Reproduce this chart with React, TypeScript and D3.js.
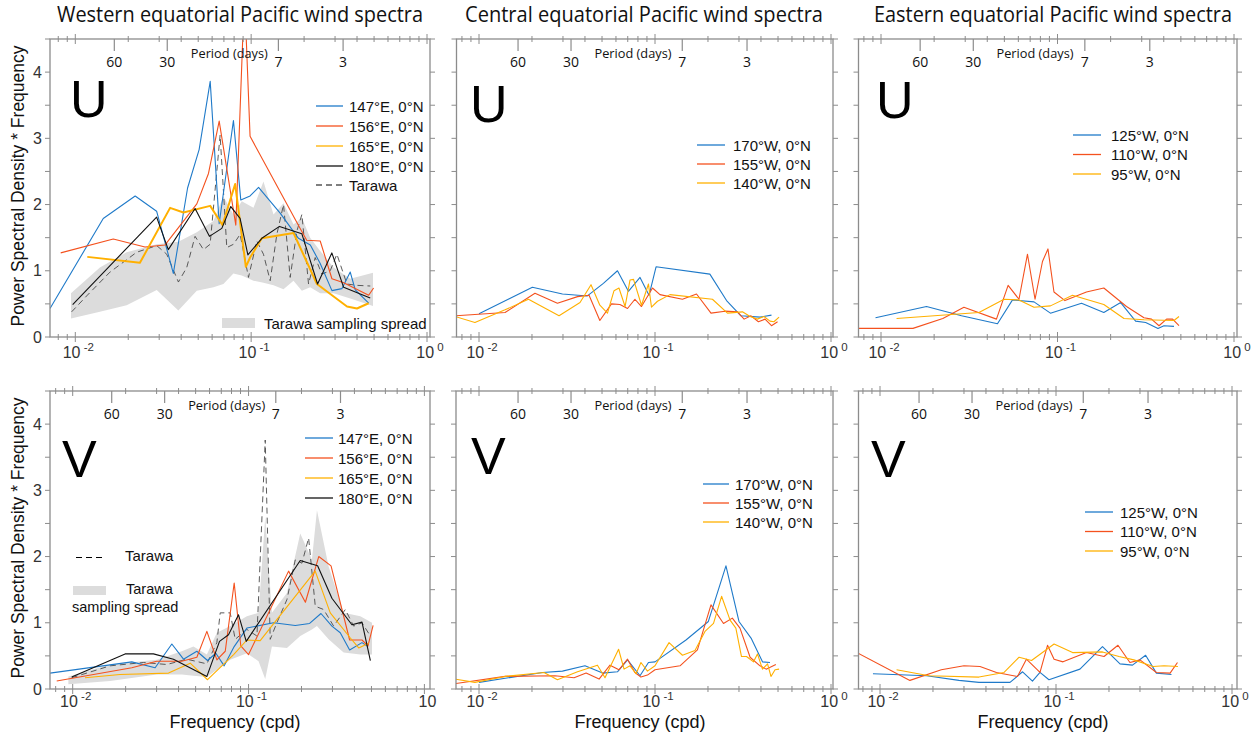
import React from 'react';
import * as d3 from 'd3';

type P = [number, number];
type B = [number, number, number];

const BLUE = '#1f7ac9';
const RED = '#f4511e';
const YELLOW = '#ffb000';
const BLACK = '#111111';
const DASH = '#4a4a4a';
const BAND = '#dcdcdc';
const AXIS = '#8c8c8c';

// ---------- Western, U ----------
const wU147: P[] = [[0.00718,0.43],[0.01442,1.79],[0.0219,2.13],[0.029,1.9],[0.0361,0.96],[0.0435,2.25],[0.0506,2.83],[0.0585,3.86],[0.0658,1.71],[0.0793,3.27],[0.0873,2.07],[0.0986,2.13],[0.1102,2.26],[0.1462,1.87],[0.1858,1.49],[0.217,1.39],[0.247,1.11],[0.288,0.7],[0.328,0.73],[0.366,0.98],[0.391,0.71],[0.466,0.51]];
const wU156: P[] = [[0.00826,1.27],[0.01644,1.48],[0.0249,1.36],[0.0324,1.39],[0.0491,2.01],[0.0572,2.47],[0.0658,3.26],[0.0818,1.69],[0.0916,5.2],[0.0986,3.03],[0.19,1.64],[0.207,1.46],[0.247,1.45],[0.288,0.88],[0.336,0.82],[0.466,0.63],[0.497,0.74]];
const wU165: P[] = [[0.0117,1.21],[0.0233,1.12],[0.0346,1.95],[0.0412,1.88],[0.0585,1.98],[0.0687,1.69],[0.0811,2.31],[0.0933,1.06],[0.0986,1.2],[0.115,1.49],[0.1742,1.57],[0.2367,0.8],[0.3508,0.46],[0.3998,0.43],[0.4656,0.51]];
const wU180: P[] = [[0.00966,0.49],[0.029,1.81],[0.0338,1.32],[0.048,1.94],[0.0579,1.52],[0.0681,1.64],[0.0766,1.97],[0.0865,1.79],[0.0958,1.24],[0.115,1.49],[0.1449,1.67],[0.1941,1.56],[0.2387,0.8],[0.2877,1.27],[0.3357,0.75],[0.4755,0.59]];
const wUTarawa: P[] = [[0.00953,0.38],[0.0116,0.62],[0.01575,0.98],[0.02234,1.28],[0.02904,1.38],[0.03311,1.25],[0.03858,0.83],[0.04303,1.05],[0.04799,1.52],[0.05354,1.32],[0.05843,1.4],[0.06661,3.05],[0.07269,1.35],[0.07931,1.4],[0.08658,1.55],[0.09656,0.9],[0.1077,1.45],[0.1175,1.25],[0.1283,0.85],[0.14,1.55],[0.1528,2.0],[0.1667,0.9],[0.182,1.6],[0.1943,1.85],[0.212,0.8],[0.2313,1.2],[0.2525,0.95],[0.2816,1.0],[0.3073,1.25],[0.3504,0.8],[0.3996,0.78],[0.4758,0.77]];
const wUSpread: B[] = [[0.00945,0.28,0.66],[0.0138,0.38,1.05],[0.01959,0.48,1.28],[0.02904,0.71,1.4],[0.03855,0.4,1.44],[0.04907,0.7,1.58],[0.06107,0.75,1.75],[0.06955,0.8,2.12],[0.07925,0.96,1.85],[0.08845,0.93,2.05],[0.1031,0.85,1.95],[0.1175,0.82,2.35],[0.134,0.78,1.85],[0.1527,0.72,2.02],[0.1741,0.85,1.7],[0.1942,0.7,1.8],[0.2166,0.75,1.5],[0.247,0.66,1.3],[0.2943,0.66,1.05],[0.3663,0.58,0.88],[0.4932,0.47,0.97]];

// ---------- Central, U ----------
const cU170: P[] = [[0.01,0.35],[0.0201,0.75],[0.0298,0.65],[0.0413,0.62],[0.0509,0.81],[0.0612,1.0],[0.0706,0.69],[0.0822,0.9],[0.0925,0.63],[0.1014,1.06],[0.205,0.95],[0.255,0.55],[0.308,0.32],[0.395,0.3],[0.459,0.33]];
const cU155: P[] = [[0.00731,0.32],[0.01406,0.37],[0.0208,0.66],[0.0279,0.51],[0.0363,0.61],[0.0422,0.63],[0.0486,0.25],[0.0566,0.5],[0.0632,0.49],[0.0698,0.43],[0.0769,0.57],[0.0838,0.46],[0.0968,0.74],[0.1067,0.64],[0.1432,0.57],[0.1722,0.65],[0.208,0.36],[0.25,0.39],[0.294,0.38],[0.321,0.27],[0.351,0.32],[0.387,0.23],[0.422,0.27],[0.459,0.17],[0.497,0.23]];
const cU140: P[] = [[0.00731,0.31],[0.00948,0.22],[0.01406,0.41],[0.0191,0.57],[0.0285,0.32],[0.0375,0.52],[0.0433,0.79],[0.0486,0.48],[0.0537,0.36],[0.0585,0.7],[0.0624,0.74],[0.0676,0.46],[0.0721,0.86],[0.0755,0.87],[0.0838,0.48],[0.0918,0.8],[0.0955,0.45],[0.1033,0.54],[0.1216,0.64],[0.212,0.57],[0.258,0.36],[0.314,0.38],[0.347,0.31],[0.382,0.27],[0.416,0.31],[0.45,0.24],[0.474,0.23],[0.507,0.3]];

// ---------- Eastern, U ----------
const eU125: P[] = [[0.00931,0.29],[0.0181,0.46],[0.0286,0.32],[0.0457,0.2],[0.0556,0.56],[0.0736,0.53],[0.0912,0.36],[0.1368,0.51],[0.183,0.37],[0.228,0.52],[0.277,0.24],[0.316,0.22],[0.371,0.13],[0.401,0.17],[0.457,0.16]];
const eU110: P[] = [[0.00741,0.13],[0.01517,0.13],[0.0224,0.28],[0.0295,0.45],[0.0451,0.27],[0.0525,0.78],[0.0605,0.57],[0.0676,1.25],[0.0746,0.57],[0.0822,1.14],[0.0883,1.33],[0.0955,0.68],[0.1102,0.55],[0.1459,0.68],[0.183,0.74],[0.246,0.46],[0.309,0.29],[0.341,0.27],[0.376,0.17],[0.415,0.27],[0.449,0.27],[0.488,0.17]];
const eU95: P[] = [[0.01225,0.28],[0.0359,0.37],[0.0498,0.57],[0.0605,0.56],[0.0736,0.45],[0.0912,0.47],[0.1216,0.63],[0.183,0.49],[0.238,0.28],[0.309,0.26],[0.457,0.25],[0.488,0.31]];

// ---------- Western, V ----------
const wV147: P[] = [[0.00743,0.24],[0.02168,0.41],[0.02943,0.32],[0.03662,0.68],[0.04267,0.45],[0.05082,0.57],[0.05845,0.43],[0.06518,0.54],[0.07268,0.35],[0.08285,0.64],[0.09785,0.92],[0.1388,1.0],[0.1844,0.96],[0.2225,0.99],[0.2581,1.14],[0.2979,0.95],[0.3323,0.85],[0.3757,0.59],[0.4417,0.7],[0.4776,0.64]];
const wV156: P[] = [[0.00811,0.12],[0.02168,0.32],[0.03006,0.42],[0.04171,0.42],[0.05082,0.48],[0.05794,0.87],[0.06607,0.44],[0.0737,0.57],[0.08285,1.6],[0.09036,0.65],[0.1,0.52],[0.1689,1.78],[0.2105,1.31],[0.2507,2.0],[0.2945,1.86],[0.3757,0.74],[0.4417,0.74],[0.4776,0.65],[0.5109,0.96]];
const wV165: P[] = [[0.01175,0.17],[0.01858,0.22],[0.03508,0.24],[0.04659,0.39],[0.05845,0.14],[0.08222,0.52],[0.09785,0.74],[0.1165,0.73],[0.2394,1.78],[0.2915,1.15],[0.3793,0.77],[0.423,0.62],[0.482,0.69]];
const wV180: P[] = [[0.00987,0.18],[0.01986,0.53],[0.02878,0.53],[0.03741,0.45],[0.05794,0.19],[0.06837,0.72],[0.07691,0.82],[0.0877,1.12],[0.09703,0.72],[0.1967,1.94],[0.247,1.86],[0.2979,1.37],[0.387,0.97],[0.4417,1.01],[0.4929,0.43]];
const wVTarawa: P[] = [[0.00987,0.17],[0.01632,0.35],[0.02525,0.4],[0.03428,0.37],[0.04457,0.45],[0.05793,0.38],[0.06603,0.7],[0.069,1.15],[0.07864,1.15],[0.08397,0.75],[0.09783,0.9],[0.1116,0.8],[0.1244,3.76],[0.1328,0.75],[0.1449,1.0],[0.1653,1.35],[0.1843,1.95],[0.2012,1.9],[0.2196,2.28],[0.2396,1.25],[0.2673,1.2],[0.3047,0.95],[0.355,1.2],[0.396,0.95],[0.4417,1.0],[0.4928,0.8]];
const wVSpread: B[] = [[0.00945,0.07,0.19],[0.01632,0.12,0.37],[0.03007,0.22,0.44],[0.04174,0.22,0.57],[0.04862,0.2,0.64],[0.05793,0.18,0.52],[0.06603,0.29,0.85],[0.07864,0.44,0.95],[0.09783,0.54,1.1],[0.114,0.42,1.15],[0.1244,0.15,2.6],[0.1358,0.64,1.15],[0.1653,0.62,1.45],[0.1968,0.8,2.35],[0.2293,0.9,1.95],[0.2449,0.95,2.7],[0.2853,0.75,1.85],[0.3473,0.55,1.15],[0.4321,0.52,1.1],[0.5036,0.52,1.0]];

// ---------- Central, V ----------
const cV170: P[] = [[0.01,0.1],[0.023,0.25],[0.0298,0.27],[0.04,0.35],[0.0504,0.24],[0.0612,0.26],[0.0698,0.44],[0.0822,0.2],[0.0918,0.4],[0.1,0.41],[0.15,0.74],[0.201,1.02],[0.253,1.86],[0.3,1.02],[0.353,0.76],[0.408,0.41],[0.45,0.4]];
const cV155: P[] = [[0.00731,0.08],[0.01406,0.19],[0.027,0.2],[0.0347,0.17],[0.0406,0.24],[0.0481,0.15],[0.0555,0.36],[0.0624,0.29],[0.0698,0.45],[0.0769,0.25],[0.0832,0.18],[0.0906,0.21],[0.1,0.29],[0.1387,0.35],[0.1742,0.59],[0.208,1.27],[0.245,0.99],[0.275,1.07],[0.304,0.92],[0.347,0.48],[0.395,0.35],[0.428,0.3],[0.486,0.37]];
const cV140: P[] = [[0.00731,0.15],[0.00948,0.1],[0.01406,0.19],[0.0234,0.25],[0.0279,0.14],[0.0363,0.26],[0.0471,0.36],[0.052,0.17],[0.0621,0.6],[0.0667,0.3],[0.0721,0.35],[0.078,0.23],[0.0832,0.4],[0.0906,0.27],[0.1,0.35],[0.1202,0.7],[0.1432,0.51],[0.1687,0.58],[0.1923,0.87],[0.215,0.99],[0.239,1.4],[0.267,1.04],[0.288,0.92],[0.31,0.49],[0.331,0.49],[0.363,0.41],[0.382,0.53],[0.408,0.3],[0.436,0.38],[0.456,0.19],[0.481,0.29],[0.507,0.3]];

// ---------- Eastern, V ----------
const eV125: P[] = [[0.00912,0.23],[0.0184,0.2],[0.0281,0.13],[0.0365,0.1],[0.0548,0.1],[0.0646,0.26],[0.0735,0.12],[0.0811,0.25],[0.0912,0.14],[0.1368,0.3],[0.1837,0.64],[0.231,0.38],[0.272,0.36],[0.323,0.51],[0.372,0.24],[0.453,0.22]];
const eV110: P[] = [[0.0075,0.54],[0.01479,0.13],[0.0223,0.29],[0.03,0.35],[0.037,0.34],[0.0459,0.25],[0.0604,0.19],[0.0679,0.45],[0.0811,0.25],[0.0895,0.66],[0.0975,0.45],[0.1096,0.41],[0.1489,0.55],[0.1875,0.49],[0.225,0.66],[0.263,0.4],[0.3,0.44],[0.372,0.25],[0.445,0.24],[0.49,0.4]];
const eV95: P[] = [[0.01242,0.29],[0.019,0.2],[0.0365,0.18],[0.0507,0.25],[0.0617,0.48],[0.0726,0.43],[0.0975,0.68],[0.1242,0.55],[0.1837,0.56],[0.228,0.49],[0.277,0.44],[0.356,0.34],[0.411,0.35],[0.493,0.34]];

// ---------- axes ----------
const yTicks = [0, 0.5, 1, 1.5, 2, 2.5, 3, 3.5, 4, 4.5];
const yTickLabels = [0, 1, 2, 3, 4];
const decades = [0.01, 0.1, 1];
const decadeExps = ['-2', '-1', '0'];
const minorFreqs = [0.008, 0.009, 0.02, 0.03, 0.04, 0.05, 0.06, 0.07, 0.08, 0.09, 0.2, 0.3, 0.4, 0.5, 0.6, 0.7, 0.8, 0.9];
const periodDays = [60, 30, 7, 3];

const titles = ['Western equatorial Pacific wind spectra', 'Central equatorial Pacific wind spectra', 'Eastern equatorial Pacific wind spectra'];
const westLabels = ['147°E, 0°N', '156°E, 0°N', '165°E, 0°N', '180°E, 0°N'];
const centralLabels = ['170°W, 0°N', '155°W, 0°N', '140°W, 0°N'];
const easternLabels = ['125°W, 0°N', '110°W, 0°N', '95°W, 0°N'];

const SANS = '"Liberation Sans", Arial, sans-serif';
const HUM = '"Open Sans", "Noto Sans", sans-serif';

type Series = { data: P[]; color: string; width: number; dash?: string };
type Cfg = {
  x0: number; x1: number; d2: number; d0: number; yTop: number; yBot: number;
  letter: string; letterX: number; letterY: number;
  series: Series[]; tarawa?: P[]; spread?: B[];
  showYLabels: boolean; lastLabel: string; tickBase: number;
  legend: { lx0: number; lx1: number; tx: number; y0: number; dy: number; labels: string[]; colors: string[] };
  id: string;
};

const panels: Cfg[] = [
  { id: 'p1', x0: 50, x1: 430, d2: 75.3, d0: 427, yTop: 39, yBot: 337, letter: 'U', letterX: 70, letterY: 117,
    series: [{ data: wU147, color: BLUE, width: 1.1 }, { data: wU156, color: RED, width: 1.1 }, { data: wU165, color: YELLOW, width: 2 }, { data: wU180, color: BLACK, width: 1.1 }],
    tarawa: wUTarawa, spread: wUSpread, showYLabels: true, lastLabel: '0', tickBase: 21,
    legend: { lx0: 316, lx1: 343, tx: 349, y0: 106, dy: 20, labels: westLabels, colors: [BLUE, RED, YELLOW, BLACK] } },
  { id: 'p2', x0: 456.5, x1: 833, d2: 479, d0: 831, yTop: 39, yBot: 337, letter: 'U', letterX: 470, letterY: 122,
    series: [{ data: cU170, color: BLUE, width: 1.1 }, { data: cU155, color: RED, width: 1.1 }, { data: cU140, color: YELLOW, width: 1.1 }],
    showYLabels: false, lastLabel: '0', tickBase: 21,
    legend: { lx0: 697, lx1: 725, tx: 733, y0: 145, dy: 19, labels: centralLabels, colors: [BLUE, RED, YELLOW] } },
  { id: 'p3', x0: 858.5, x1: 1237, d2: 881, d0: 1234, yTop: 39, yBot: 337, letter: 'U', letterX: 876, letterY: 118,
    series: [{ data: eU125, color: BLUE, width: 1.1 }, { data: eU110, color: RED, width: 1.1 }, { data: eU95, color: YELLOW, width: 1.1 }],
    showYLabels: false, lastLabel: '0', tickBase: 21,
    legend: { lx0: 1073, lx1: 1101, tx: 1111, y0: 135, dy: 19.5, labels: easternLabels, colors: [BLUE, RED, YELLOW] } },
  { id: 'p4', x0: 50, x1: 430, d2: 72.7, d0: 424.4, yTop: 391, yBot: 689, letter: 'V', letterX: 62, letterY: 477,
    series: [{ data: wV147, color: BLUE, width: 1.1 }, { data: wV156, color: RED, width: 1.1 }, { data: wV165, color: YELLOW, width: 1.1 }, { data: wV180, color: BLACK, width: 1.1 }],
    tarawa: wVTarawa, spread: wVSpread, showYLabels: true, lastLabel: '', tickBase: 18,
    legend: { lx0: 305, lx1: 333, tx: 338, y0: 438, dy: 20, labels: westLabels, colors: [BLUE, RED, YELLOW, BLACK] } },
  { id: 'p5', x0: 456, x1: 833, d2: 479, d0: 831, yTop: 391, yBot: 689, letter: 'V', letterX: 471, letterY: 474,
    series: [{ data: cV170, color: BLUE, width: 1.1 }, { data: cV155, color: RED, width: 1.1 }, { data: cV140, color: YELLOW, width: 1.1 }],
    showYLabels: false, lastLabel: '0', tickBase: 18,
    legend: { lx0: 703, lx1: 729, tx: 735, y0: 484, dy: 19, labels: centralLabels, colors: [BLUE, RED, YELLOW] } },
  { id: 'p6', x0: 858.5, x1: 1237, d2: 880, d0: 1232, yTop: 391, yBot: 689, letter: 'V', letterX: 871, letterY: 477,
    series: [{ data: eV125, color: BLUE, width: 1.1 }, { data: eV110, color: RED, width: 1.1 }, { data: eV95, color: YELLOW, width: 1.1 }],
    showYLabels: false, lastLabel: '0', tickBase: 18,
    legend: { lx0: 1085, lx1: 1113, tx: 1120, y0: 512, dy: 19.5, labels: easternLabels, colors: [BLUE, RED, YELLOW] } },
];

function Panel({ c }: { c: Cfg }) {
  const x = d3.scaleLog().domain([0.01, 1]).range([c.d2, c.d0]);
  const y = d3.scaleLinear().domain([0, 4.5]).range([c.yBot, c.yTop]);
  const line = d3.line<P>().x(d => x(d[0])).y(d => y(d[1]));
  const area = d3.area<B>().x(d => x(d[0])).y0(d => y(d[1])).y1(d => y(d[2]));
  const clipId = 'clip-' + c.id;
  const inX = (v: number) => x(v) >= c.x0 - 0.5 && x(v) <= c.x1 + 0.5;
  return (
    <g>
      <defs>
        <clipPath id={clipId}><rect x={c.x0} y={c.yTop} width={c.x1 - c.x0} height={c.yBot - c.yTop} /></clipPath>
      </defs>
      <g clipPath={`url(#${clipId})`}>
        {c.spread && <path d={area(c.spread) || ''} fill={BAND} stroke="none" />}
        {c.tarawa && <path d={line(c.tarawa) || ''} fill="none" stroke={DASH} strokeWidth={0.9} strokeDasharray="6,4" />}
        {c.series.map((s, i) => (
          <path key={i} d={line(s.data) || ''} fill="none" stroke={s.color} strokeWidth={s.width} strokeLinejoin="round" />
        ))}
      </g>
      <rect x={c.x0} y={c.yTop} width={c.x1 - c.x0} height={c.yBot - c.yTop} fill="none" stroke={AXIS} strokeWidth={1.3} />
      {yTicks.map(t => (
        <g key={'yt' + t}>
          <line x1={c.x0 - 5} x2={c.x0} y1={y(t)} y2={y(t)} stroke={AXIS} strokeWidth={1} />
          <line x1={c.x1} x2={c.x1 + 5} y1={y(t)} y2={y(t)} stroke={AXIS} strokeWidth={1} />
        </g>
      ))}
      {c.showYLabels && yTickLabels.map(t => (
        <text key={'yl' + t} x={c.x0 - 8} y={y(t) + 5.5} textAnchor="end" fontFamily={SANS} fontSize={16} fill="#333">{t}</text>
      ))}
      {minorFreqs.filter(inX).map(f => (
        <g key={'mx' + f}>
          <line x1={x(f)} x2={x(f)} y1={c.yBot - 3} y2={c.yBot + 3} stroke={AXIS} strokeWidth={1} />
          <line x1={x(f)} x2={x(f)} y1={c.yTop - 3} y2={c.yTop + 3} stroke={AXIS} strokeWidth={1} />
        </g>
      ))}
      {decades.filter(inX).map(f => (
        <g key={'dx' + f}>
          <line x1={x(f)} x2={x(f)} y1={c.yBot - 5} y2={c.yBot + 5} stroke={AXIS} strokeWidth={1} />
          <line x1={x(f)} x2={x(f)} y1={c.yTop - 5} y2={c.yTop + 5} stroke={AXIS} strokeWidth={1} />
        </g>
      ))}
      {decades.map((f, i) => (
        <text key={'dl' + f} x={x(f) + 3} y={c.yBot + c.tickBase} textAnchor="middle" fontFamily={SANS} fontSize={16} fill="#333">
          10{(i < 2 || c.lastLabel) ? <tspan dy={-7} fontSize={11.5}>{' ' + decadeExps[i]}</tspan> : null}
        </text>
      ))}
      {periodDays.map(p => (
        <g key={'pd' + p}>
          <line x1={x(1 / p)} x2={x(1 / p)} y1={c.yTop} y2={c.yTop + 12} stroke={AXIS} strokeWidth={1.2} />
          <text x={x(1 / p)} y={c.yTop + 28} textAnchor="middle" fontFamily={HUM} fontSize={14} fill="#111">{p}</text>
        </g>
      ))}
      <text x={c.d2 + 154} y={c.yTop + 19} textAnchor="middle" fontFamily={HUM} fontSize={13} fill="#111" textLength={77} lengthAdjust="spacingAndGlyphs">Period (days)</text>
      <text x={c.letterX} y={c.letterY} fontFamily={SANS} fontSize={52} fill="#000">{c.letter}</text>
      {c.legend.labels.map((lab, i) => (
        <g key={'lg' + i}>
          <line x1={c.legend.lx0} x2={c.legend.lx1} y1={c.legend.y0 + i * c.legend.dy} y2={c.legend.y0 + i * c.legend.dy} stroke={c.legend.colors[i]} strokeWidth={1.3} />
          <text x={c.legend.tx} y={c.legend.y0 + i * c.legend.dy + 5.5} fontFamily={SANS} fontSize={15} fill="#111">{lab}</text>
        </g>
      ))}
    </g>
  );
}

export default function App() {
  const titleX = [240, 644, 1053];
  const colCenters = [235, 640, 1043];
  return (
    <svg width={1255} height={734} style={{ position: 'absolute', left: 0, top: 0, background: '#fff' }}>
      <rect x={0} y={0} width={1255} height={734} fill="#fff" />
      {titles.map((t, i) => (
        <text key={t} x={titleX[i]} y={22} textAnchor="middle" fontFamily={HUM} fontSize={21} fill="#111" textLength={i === 0 ? 366 : 358} lengthAdjust="spacingAndGlyphs">{t}</text>
      ))}
      {panels.map(p => <Panel key={p.id} c={p} />)}
      {[186, 538].map(cy => (
        <text key={cy} transform={`translate(24,${cy}) rotate(-90)`} textAnchor="middle" fontFamily={SANS} fontSize={17.5} fill="#111">Power Spectral Density * Frequency</text>
      ))}
      {colCenters.map(cx => (
        <text key={cx} x={cx} y={728} textAnchor="middle" fontFamily={SANS} fontSize={18} fill="#111">Frequency (cpd)</text>
      ))}
      <line x1={316} x2={343} y1={185} y2={185} stroke="#000" strokeWidth={1.2} strokeDasharray="6,4" />
      <text x={349} y={190.5} fontFamily={SANS} fontSize={15} fill="#111">Tarawa</text>
      <rect x={222} y={318} width={33} height={10} fill={BAND} />
      <text x={264} y={328.5} fontFamily={SANS} fontSize={15} fill="#111">Tarawa sampling spread</text>
      <line x1={76} x2={104} y1={557.5} y2={557.5} stroke="#000" strokeWidth={1.2} strokeDasharray="6,4" />
      <text x={125} y={561} fontFamily={SANS} fontSize={15} fill="#111">Tarawa</text>
      <rect x={73} y={586} width={33} height={9} fill={BAND} />
      <text x={126} y={594} fontFamily={SANS} fontSize={14.5} fill="#111">Tarawa</text>
      <text x={72} y={612} fontFamily={SANS} fontSize={14.5} fill="#111">sampling spread</text>
    </svg>
  );
}
